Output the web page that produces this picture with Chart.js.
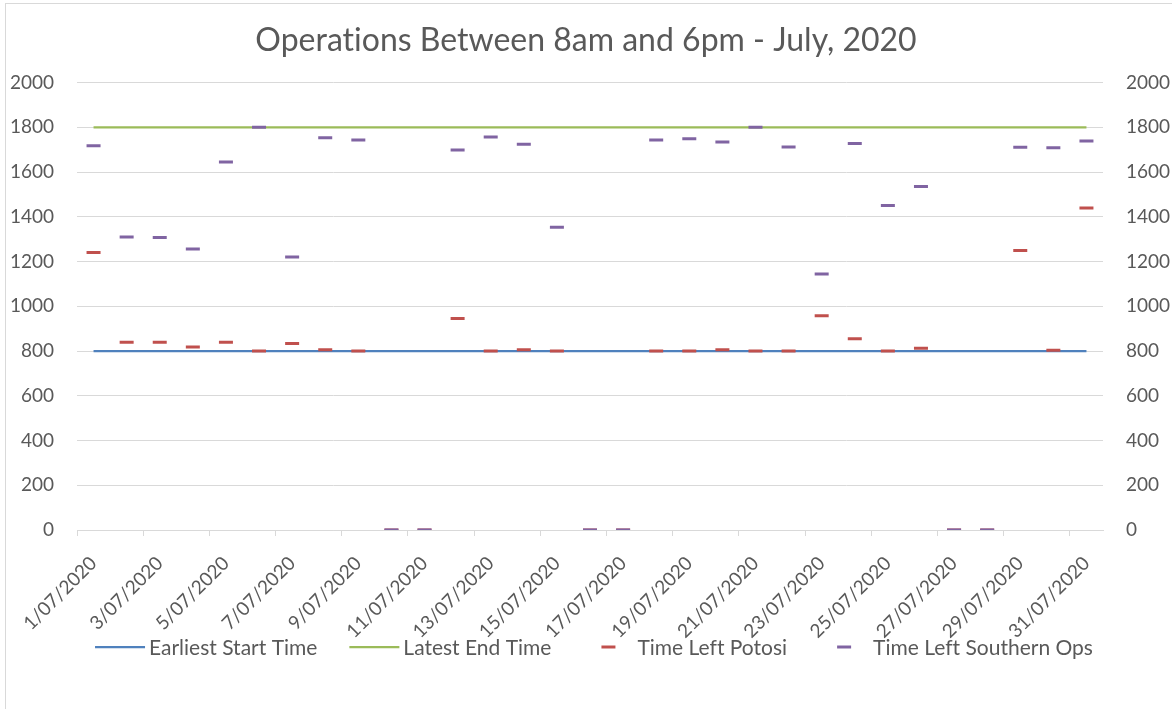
<!DOCTYPE html>
<html><head><meta charset="utf-8">
<script src="https://cdn.jsdelivr.net/npm/chart.js@4.4.1/dist/chart.umd.min.js"></script>
<style>
html,body{margin:0;padding:0;background:#fff;overflow:hidden}
#wrap{position:relative;width:1172px;height:709px;overflow:hidden}
#frame{position:absolute;left:5px;top:3px;width:1300px;height:800px;border:1px solid #d9d9d9;pointer-events:none}
canvas{position:absolute;left:0;top:0}
</style></head><body>
<div id="wrap"><canvas id="c" width="1172" height="709"></canvas><div id="frame"></div></div>
<script>
const categories = ["1/07/2020","2/07/2020","3/07/2020","4/07/2020","5/07/2020","6/07/2020","7/07/2020","8/07/2020","9/07/2020","10/07/2020","11/07/2020","12/07/2020","13/07/2020","14/07/2020","15/07/2020","16/07/2020","17/07/2020","18/07/2020","19/07/2020","20/07/2020","21/07/2020","22/07/2020","23/07/2020","24/07/2020","25/07/2020","26/07/2020","27/07/2020","28/07/2020","29/07/2020","30/07/2020","31/07/2020"];
const earliestStart = [800,800,800,800,800,800,800,800,800,800,800,800,800,800,800,800,800,800,800,800,800,800,800,800,800,800,800,800,800,800,800];
const latestEnd = [1800,1800,1800,1800,1800,1800,1800,1800,1800,1800,1800,1800,1800,1800,1800,1800,1800,1800,1800,1800,1800,1800,1800,1800,1800,1800,1800,1800,1800,1800,1800];
const timeLeftPotosi = [1241,839,839,818,839,800,834,806,800,0,0,945,800,806,800,0,0,800,800,806,800,800,958,855,800,812,0,0,1250,803,1439];
const timeLeftSouthern = [1718,1310,1307,1256,1645,1800,1220,1754,1743,0,0,1699,1757,1724,1353,0,0,1743,1749,1734,1800,1712,1144,1728,1451,1535,0,0,1711,1709,1739];
const yTickMin = 0, yTickMax = 2000, yTickStep = 200;
const seriesNames = ["Earliest Start Time","Latest End Time","Time Left Potosi","Time Left Southern Ops"];
const seriesColors = ["#4F81BD","#9BBB59","#C0504D","#8064A2"];
const titleText = "Operations Between 8am and 6pm - July, 2020";

const textColor = '#595959';
const gridColor = '#d9d9d9';
const FONT = 'Lato';
const LEGEND_SIZE = 21;

const lineDs = (i, data, order) => ({
  label: seriesNames[i], data, borderColor: seriesColors[i], backgroundColor: seriesColors[i],
  borderWidth: 2.25, pointRadius: 0, pointHoverRadius: 0, tension: 0, order, yAxisID: 'y'
});
const markDs = (i, data, order) => ({
  label: seriesNames[i], data, showLine: false, pointStyle: 'line', pointRadius: 7, pointHoverRadius: 7,
  pointBorderWidth: 3, borderColor: seriesColors[i], backgroundColor: seriesColors[i], order, yAxisID: 'y'
});

const textSetup = {
  id: 'textSetup',
  beforeDraw(chart) { try { chart.ctx.textRendering = 'optimizeSpeed'; } catch (e) {} }
};

const excelLegend = {
  id: 'excelLegend',
  afterDraw(chart) {
    const ctx = chart.ctx;
    const ca = chart.chartArea;
    ctx.save();
    ctx.font = `${LEGEND_SIZE}px ${FONT}`;
    ctx.textBaseline = 'middle';
    ctx.textAlign = 'left';
    const slot = 50, gapText = 4, gapItem = 32;
    const widths = seriesNames.map(n => ctx.measureText(n).width);
    const total = widths.reduce((a, w) => a + slot + gapText + w, 0) + gapItem * (seriesNames.length - 1);
    let x = (ca.left + ca.right) / 2 + 4 - total / 2;
    const y = chart.height - 62;
    seriesNames.forEach((name, i) => {
      ctx.strokeStyle = seriesColors[i];
      ctx.lineCap = 'butt';
      ctx.beginPath();
      if (i < 2) {
        ctx.lineWidth = 2.25;
        ctx.moveTo(x, y); ctx.lineTo(x + slot, y);
      } else {
        ctx.lineWidth = 3;
        ctx.moveTo(x + slot / 2 - 7, y); ctx.lineTo(x + slot / 2 + 7, y);
      }
      ctx.stroke();
      ctx.fillStyle = textColor;
      ctx.fillText(name, x + slot + gapText, y + 1);
      x += slot + gapText + widths[i] + gapItem;
    });
    ctx.restore();
  }
};

const plainTick = v => String(v);

new Chart(document.getElementById('c'), {
  type: 'line',
  data: {
    labels: categories,
    datasets: [
      lineDs(0, earliestStart, 4),
      lineDs(1, latestEnd, 3),
      markDs(2, timeLeftPotosi, 2),
      markDs(3, timeLeftSouthern, 1)
    ]
  },
  plugins: [textSetup, excelLegend],
  options: {
    responsive: false,
    animation: false,
    layout: { padding: { left: 0, right: 0, top: 0, bottom: 54 } },
    scales: {
      x: {
        type: 'category', offset: true,
        grid: {
          offset: true, drawOnChartArea: false, drawTicks: true, tickLength: 6,
          color: ctx => (ctx.index % 2 === 0 ? gridColor : 'rgba(0,0,0,0)')
        },
        border: { display: true, color: gridColor, width: 1 },
        ticks: {
          autoSkip: false, minRotation: 45, maxRotation: 45, padding: 16,
          color: textColor, font: { family: FONT, size: 19 },
          callback: (v, i) => (i % 2 === 0 ? categories[i] : '')
        },
        afterFit: s => { s.height = 125; }
      },
      y: {
        position: 'left', min: yTickMin, max: yTickMax,
        grid: { color: gridColor, lineWidth: 1, drawTicks: false },
        border: { display: false },
        ticks: { stepSize: yTickStep, padding: 23, color: textColor, font: { family: FONT, size: 19 }, callback: plainTick },
        afterFit: s => { s.width = 77; }
      },
      y2: {
        position: 'right', display: true, min: yTickMin, max: yTickMax,
        grid: { display: false, drawTicks: false },
        border: { display: false },
        ticks: { stepSize: yTickStep, padding: 23, color: textColor, font: { family: FONT, size: 19 }, callback: plainTick },
        afterFit: s => { s.width = 69; }
      }
    },
    plugins: {
      tooltip: { enabled: false },
      legend: { display: false },
      title: {
        display: true, text: titleText, color: textColor,
        font: { family: FONT, size: 32, weight: 'normal' },
        padding: { top: 21.5, bottom: 22.7 }
      }
    }
  }
});
</script>
</body></html>
